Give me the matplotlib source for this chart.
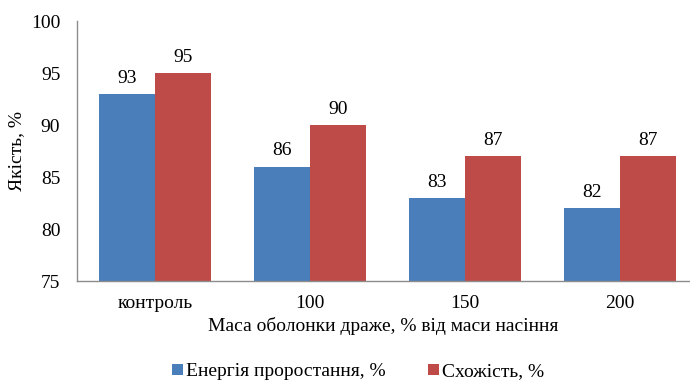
import matplotlib
matplotlib.use("Agg")
import matplotlib.pyplot as plt
import numpy as np

plt.rcParams['font.family'] = ['Liberation Serif', 'DejaVu Serif']

categories = ["контроль", "100", "150", "200"]
energy = [93, 86, 83, 82]
germination = [95, 90, 87, 87]
series_names = ["Енергія проростання, %", "Схожість, %"]
y_ticks = [75, 80, 85, 90, 95, 100]

blue = "#4A7EBB"
red = "#BE4B48"
fs = 14

fig = plt.figure(figsize=(6.9, 3.83), dpi=100)
ax = fig.add_axes([77 / 690, (383 - 281) / 383, (690 - 77) / 690, (281 - 21) / 383])

x = np.arange(len(categories))
w = 0.36
b1 = ax.bar(x - w / 2, np.array(energy) - 75, w, bottom=75, color=blue, label=series_names[0])
b2 = ax.bar(x + w / 2, np.array(germination) - 75, w, bottom=75, color=red, label=series_names[1])

for xi, v in zip(x - w / 2, energy):
    ax.text(xi, v + 0.7, f"{v}", ha="center", va="bottom", fontsize=fs)
for xi, v in zip(x + w / 2, germination):
    ax.text(xi, v + 0.7, f"{v}", ha="center", va="bottom", fontsize=fs)

ax.set_xlim(-0.503, 3.45)
ax.set_ylim(75, 100)
ax.set_yticks(y_ticks)
ax.set_xticks(x)
ax.set_xticklabels(categories)
ax.tick_params(axis="both", length=0, labelsize=fs)
ax.tick_params(axis="y", pad=12)
ax.tick_params(axis="x", pad=10)

for s in ["top", "right"]:
    ax.spines[s].set_visible(False)
for s in ["left", "bottom"]:
    ax.spines[s].set_color("#8c8c8c")
    ax.spines[s].set_linewidth(1.0)

ax.set_ylabel("Якість, %", fontsize=fs, labelpad=4)
ax.set_xlabel("Маса оболонки драже, % від маси насіння", fontsize=fs, labelpad=4)

fig.legend(handles=[b1, b2], labels=series_names, loc="center", bbox_to_anchor=(358 / 690, 1 - 372 / 383),
           ncol=2, frameon=False, fontsize=fs, handlelength=0.55, handleheight=0.55,
           handletextpad=0.15, columnspacing=2.2)

fig.savefig("out.png", dpi=100)
